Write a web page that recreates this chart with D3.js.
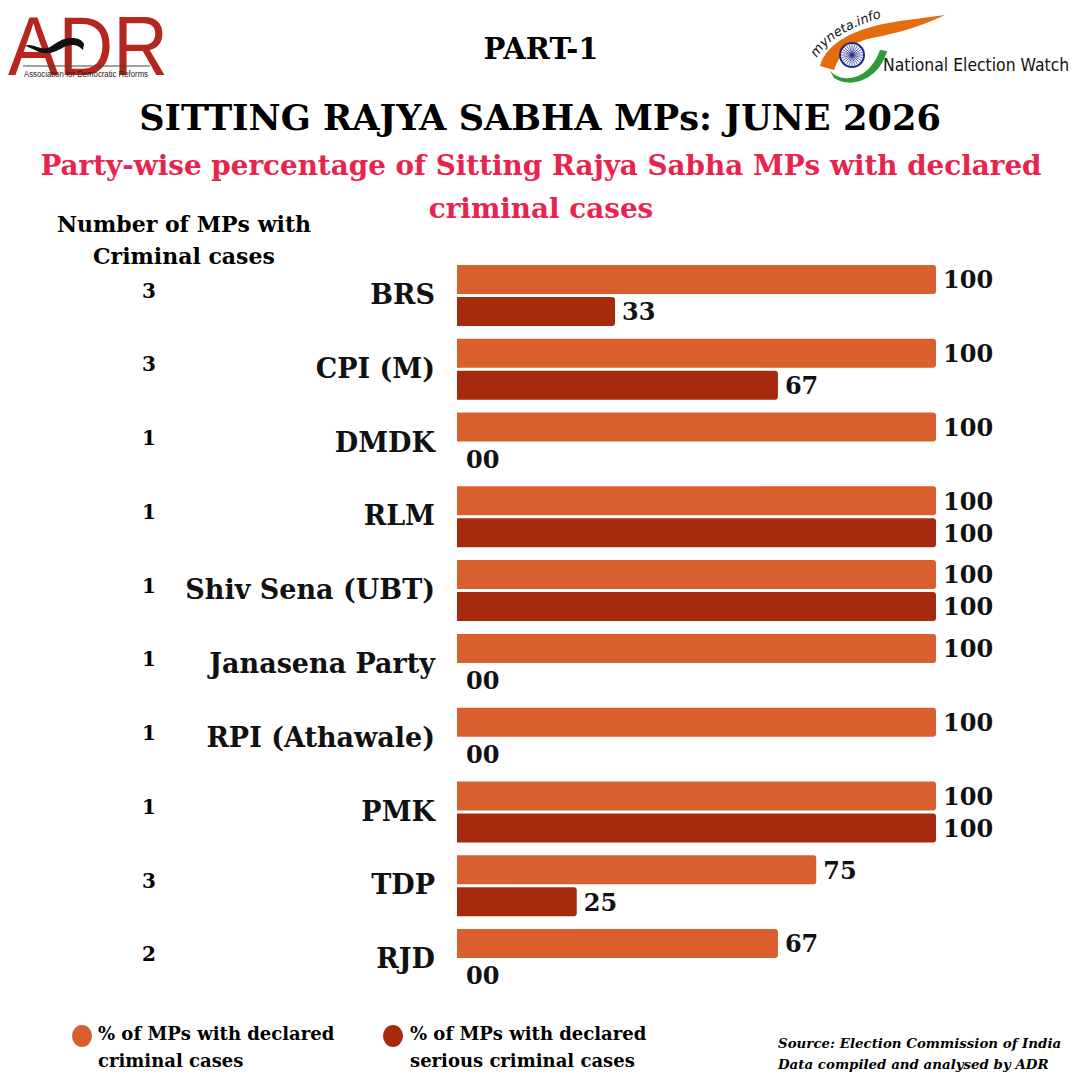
<!DOCTYPE html>
<html>
<head>
<meta charset="utf-8">
<script src="https://cdn.jsdelivr.net/npm/d3@7"></script>
<style>
  html, body { margin: 0; padding: 0; background: #fff; }
  svg { display: block; }
</style>
</head>
<body>
<div id="chart"></div>
<script>
// data
const parties = ['BRS', 'CPI (M)', 'DMDK', 'RLM', 'Shiv Sena (UBT)', 'Janasena Party',
  'RPI (Athawale)', 'PMK', 'TDP', 'RJD']
const mpCounts = [3, 3, 1, 1, 1, 1, 1, 1, 3, 2]
const pctCriminal = [100, 100, 100, 100, 100, 100, 100, 100, 75, 67]
const pctSerious = [33, 67, 0, 100, 100, 0, 0, 100, 25, 0]
const legendLines = [['% of MPs with declared', 'criminal cases'], ['% of MPs with declared', 'serious criminal cases']]

const W = 1080, H = 1080
const SERIF = '"DejaVu Serif", Georgia, serif'
const C_ORANGE = '#D9602E'
const C_DARK = '#A52A0E'

const svg = d3.select('#chart').append('svg')
  .attr('width', W).attr('height', H)
  .style('font-family', SERIF)

// ---- ADR logo
const adr = svg.append('g')
adr.append('text')
  .attr('x', 8).attr('y', 75)
  .attr('textLength', 160).attr('lengthAdjust', 'spacingAndGlyphs')
  .style('font-family', '"Liberation Sans", Arial, sans-serif')
  .style('font-size', '83px')
  .attr('fill', '#B5261E')
  .text('ADR')
adr.append('path')
  .attr('d', 'M25,46 C33,42 40,52 50,47 C58,42 62,38 72,38 C78,38 82,40 84,44 L83,50 C79,46 76,45 72,45 C64,45 58,52 50,53 C40,55 33,48 25,46 Z')
  .attr('fill', '#111')
adr.append('line')
  .attr('x1', 23).attr('x2', 150).attr('y1', 66).attr('y2', 66)
  .attr('stroke', '#444').attr('stroke-width', 1)
adr.append('text')
  .attr('x', 24).attr('y', 76.5)
  .attr('textLength', 124).attr('lengthAdjust', 'spacingAndGlyphs')
  .style('font-family', '"Liberation Sans", Arial, sans-serif')
  .style('font-size', '8.5px')
  .attr('fill', '#222')
  .text('Association for Democratic Reforms')

// ---- National Election Watch logo
const nw = svg.append('g')
nw.append('path')
  .attr('d', 'M820,66 C826,44 852,28 900,21 L945,15 C918,28 892,34 872,38 C852,42 840,52 834,70 Z')
  .attr('fill', '#E46B0E')
nw.append('path')
  .attr('d', 'M828,67 C836,84 868,84 880,50 L887,51 C880,78 852,90 834,78 Z')
  .attr('fill', '#2E9A3A')
nw.append('circle')
  .attr('cx', 852).attr('cy', 55).attr('r', 12)
  .attr('fill', '#fff').attr('stroke', '#1F2A8C').attr('stroke-width', 2)
nw.append('g')
  .selectAll('line')
  .data(d3.range(24))
  .join('line')
  .attr('x1', 852).attr('y1', 55)
  .attr('x2', d => 852 + 11 * Math.cos(d * Math.PI / 12))
  .attr('y2', d => 55 + 11 * Math.sin(d * Math.PI / 12))
  .attr('stroke', '#1F2A8C').attr('stroke-width', 0.7)
nw.append('path')
  .attr('id', 'mynetaPath')
  .attr('d', 'M817,58 Q832,30 895,14')
  .attr('fill', 'none')
nw.append('text')
  .style('font-family', '"DejaVu Sans", sans-serif')
  .style('font-size', '13px').style('font-style', 'italic')
  .attr('fill', '#111')
  .append('textPath')
  .attr('href', '#mynetaPath')
  .attr('textLength', 78).attr('lengthAdjust', 'spacingAndGlyphs')
  .text('myneta.info')
nw.append('text')
  .attr('x', 883).attr('y', 71)
  .style('font-family', '"DejaVu Sans Condensed", "DejaVu Sans", sans-serif')
  .style('font-size', '17.4px')
  .attr('fill', '#111')
  .text('National Election Watch')

// ---- titles
svg.append('text')
  .attr('x', 541).attr('y', 59).attr('text-anchor', 'middle')
  .style('font-size', '29px').style('font-weight', 'bold')
  .text('PART-1')
svg.append('text')
  .attr('x', 540).attr('y', 130).attr('text-anchor', 'middle')
  .style('font-size', '35.2px').style('font-weight', 'bold')
  .text('SITTING RAJYA SABHA MPs: JUNE 2026')
svg.append('text')
  .attr('x', 541).attr('y', 175).attr('text-anchor', 'middle')
  .style('font-size', '27.8px').style('font-weight', 'bold')
  .attr('fill', '#E8244E')
  .text('Party-wise percentage of Sitting Rajya Sabha MPs with declared')
svg.append('text')
  .attr('x', 541).attr('y', 218).attr('text-anchor', 'middle')
  .style('font-size', '27.8px').style('font-weight', 'bold')
  .attr('fill', '#E8244E')
  .text('criminal cases')

svg.append('text')
  .attr('x', 184).attr('y', 232).attr('text-anchor', 'middle')
  .style('font-size', '22px').style('font-weight', 'bold')
  .text('Number of MPs with')
svg.append('text')
  .attr('x', 184).attr('y', 264).attr('text-anchor', 'middle')
  .style('font-size', '22px').style('font-weight', 'bold')
  .text('Criminal cases')

// ---- scales
const x = d3.scaleLinear().domain([0, 100]).range([457, 936])
const y = d3.scaleBand().domain(parties).range([265, 990]).paddingInner(0.173).paddingOuter(0)
const ySub = d3.scaleBand().domain(['crim', 'serious']).range([0, y.bandwidth()]).paddingInner(0.094)
const color = d3.scaleOrdinal().domain(['crim', 'serious']).range([C_ORANGE, C_DARK])

const rows = parties.map((p, i) => ({
  party: p, count: mpCounts[i],
  vals: [{ key: 'crim', v: pctCriminal[i] }, { key: 'serious', v: pctSerious[i] }]
}))

// party labels via axis
svg.append('g')
  .attr('transform', 'translate(447,0)')
  .call(d3.axisLeft(y).tickSize(0).tickPadding(0))
  .call(sel => sel.select('.domain').remove())
  .call(sel => sel.selectAll('.tick text')
    .attr('x', -12)
    .style('font-family', SERIF)
    .style('font-size', '27px').style('font-weight', 'bold')
    .attr('fill', '#111'))

// count column
svg.append('g').selectAll('text')
  .data(rows)
  .join('text')
  .attr('x', 149)
  .attr('y', d => y(d.party) + y.bandwidth() / 2 - 5)
  .attr('dy', '0.35em')
  .attr('text-anchor', 'middle')
  .style('font-size', '20px').style('font-weight', 'bold')
  .text(d => d.count)

// bar with rounded right end
function barPath(x0, x1, y0, h, r) {
  const w = x1 - x0
  if (w <= 0) return ''
  r = Math.min(r, w / 2)
  return `M${x0},${y0}H${x1 - r}Q${x1},${y0} ${x1},${y0 + r}V${y0 + h - r}Q${x1},${y0 + h} ${x1 - r},${y0 + h}H${x0}Z`
}

const grp = svg.append('g').selectAll('g')
  .data(rows)
  .join('g')
  .attr('transform', d => `translate(0,${y(d.party)})`)

grp.selectAll('path')
  .data(d => d.vals)
  .join('path')
  .attr('d', d => barPath(x(0), x(d.v), ySub(d.key), ySub.bandwidth(), 3))
  .attr('fill', d => color(d.key))

grp.selectAll('text')
  .data(d => d.vals)
  .join('text')
  .attr('x', d => x(d.v) + (d.v === 0 ? 9 : 7))
  .attr('y', d => ySub(d.key) + ySub.bandwidth() / 2)
  .attr('dy', '0.37em')
  .style('font-size', '24px').style('font-weight', 'bold')
  .attr('fill', '#111')
  .text(d => d.v === 0 ? '00' : d.v)

// ---- legend
const legendPos = [{ cx: 82, tx: 98 }, { cx: 393, tx: 410 }]
const lg = svg.append('g').selectAll('g')
  .data(['crim', 'serious'])
  .join('g')
lg.append('ellipse')
  .attr('cx', (d, i) => legendPos[i].cx).attr('cy', 1036)
  .attr('rx', 10).attr('ry', 11)
  .attr('fill', d => color(d))
lg.each(function (d, i) {
  legendLines[i].forEach((t, j) => {
    d3.select(this).append('text')
      .attr('x', legendPos[i].tx).attr('y', 1040 + j * 27)
      .style('font-size', '18px').style('font-weight', 'bold')
      .text(t)
  })
})

// ---- source
const src = ['Source: Election Commission of India', 'Data compiled and analysed by ADR']
svg.append('g').selectAll('text')
  .data(src)
  .join('text')
  .attr('x', 778).attr('y', (d, i) => 1048 + i * 21)
  .style('font-size', '13.4px').style('font-weight', 'bold').style('font-style', 'italic')
  .text(d => d)
</script>
</body>
</html>
